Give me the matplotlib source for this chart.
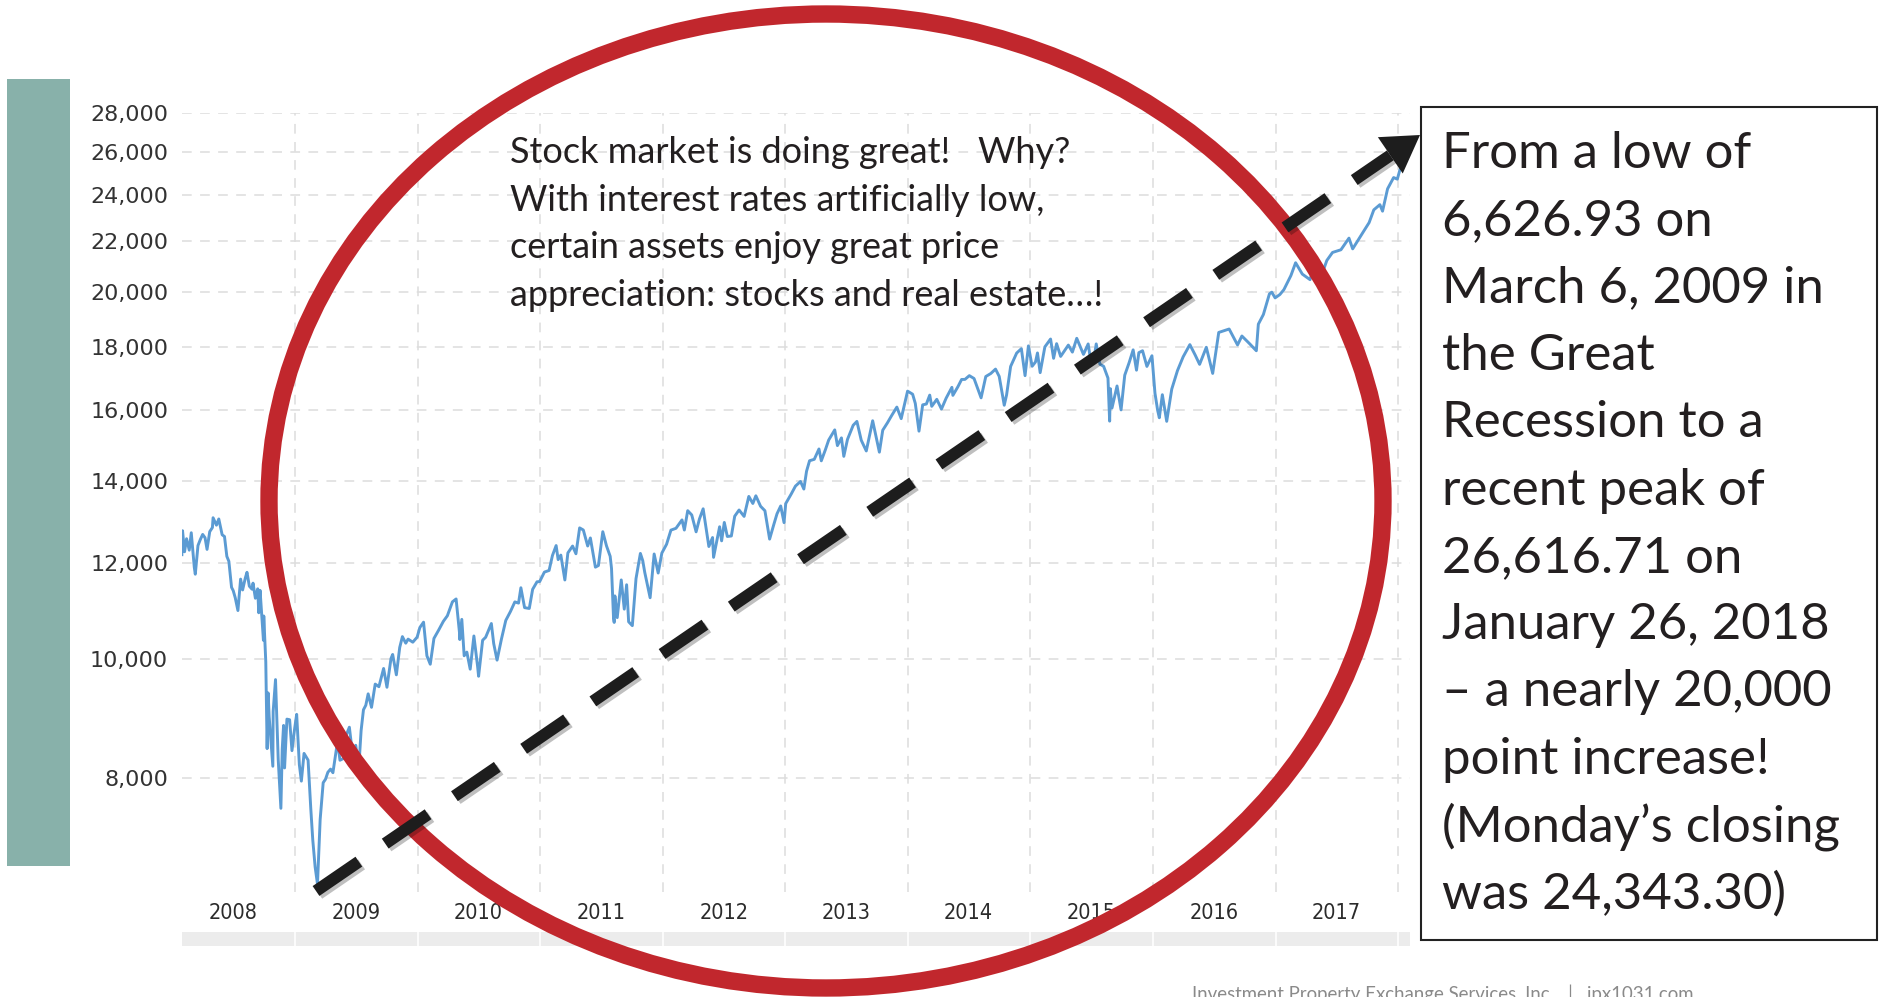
import datetime as dt
import matplotlib
matplotlib.use("Agg")
import pandas as pd
import matplotlib.pyplot as plt
import matplotlib.dates as mdates
import matplotlib.patheffects as pe
from matplotlib.patches import Ellipse, Rectangle, Polygon
from matplotlib.ticker import FixedLocator, FuncFormatter

W, H, DPI = 1881, 997, 100
plt.rcParams['lines.scale_dashes'] = False

# Dow Jones Industrial Average (approximate closes)
djia_dates = [
    "2008-01-30", "2008-02-01", "2008-02-07", "2008-02-13", "2008-02-21", "2008-02-27", "2008-03-07",
    "2008-03-10", "2008-03-18", "2008-03-25", "2008-04-01", "2008-04-08", "2008-04-14", "2008-04-22",
    "2008-04-30", "2008-05-02", "2008-05-12", "2008-05-19", "2008-05-29", "2008-06-05", "2008-06-12",
    "2008-06-18", "2008-06-26", "2008-07-01", "2008-07-07", "2008-07-15", "2008-07-23", "2008-07-29",
    "2008-08-06", "2008-08-11", "2008-08-18", "2008-08-26", "2008-08-29", "2008-09-05", "2008-09-12",
    "2008-09-15", "2008-09-19", "2008-09-29", "2008-09-30", "2008-10-06", "2008-10-10", "2008-10-13",
    "2008-10-16", "2008-10-22", "2008-10-27", "2008-10-28", "2008-11-04", "2008-11-12", "2008-11-20",
    "2008-11-24", "2008-11-28", "2008-12-01", "2008-12-08", "2008-12-16", "2008-12-23", "2008-12-31",
    "2009-01-06", "2009-01-14", "2009-01-20", "2009-01-28", "2009-02-09", "2009-02-17", "2009-02-23",
    "2009-03-02", "2009-03-09", "2009-03-17", "2009-03-26", "2009-04-02", "2009-04-09", "2009-04-17",
    "2009-04-24", "2009-05-04", "2009-05-08", "2009-05-15", "2009-05-27", "2009-06-03", "2009-06-12",
    "2009-06-22", "2009-07-01", "2009-07-10", "2009-07-17", "2009-07-24", "2009-07-31", "2009-08-07",
    "2009-08-17", "2009-08-28", "2009-09-08", "2009-09-22", "2009-10-02", "2009-10-14", "2009-10-19",
    "2009-10-30", "2009-11-09", "2009-11-17", "2009-11-27", "2009-12-04", "2009-12-18", "2009-12-31",
    "2010-01-08", "2010-01-19", "2010-01-29", "2010-02-08", "2010-02-19", "2010-03-05", "2010-03-19",
    "2010-03-31", "2010-04-15", "2010-04-26", "2010-05-06", "2010-05-07", "2010-05-13", "2010-05-20",
    "2010-05-28", "2010-06-07", "2010-06-18", "2010-06-29", "2010-07-02", "2010-07-14", "2010-07-23",
    "2010-08-09", "2010-08-16", "2010-08-26", "2010-09-08", "2010-09-21", "2010-10-05", "2010-10-18",
    "2010-10-29", "2010-11-05", "2010-11-16", "2010-11-30", "2010-12-10", "2010-12-23", "2010-12-31",
    "2011-01-14", "2011-01-28", "2011-02-07", "2011-02-18", "2011-02-24", "2011-03-04", "2011-03-16",
    "2011-03-25", "2011-04-08", "2011-04-18", "2011-04-29", "2011-05-10", "2011-05-23", "2011-05-31",
    "2011-06-15", "2011-06-24", "2011-07-07", "2011-07-18", "2011-07-29", "2011-08-02", "2011-08-08",
    "2011-08-10", "2011-08-12", "2011-08-19", "2011-08-31", "2011-09-09", "2011-09-16", "2011-09-22",
    "2011-10-03", "2011-10-14", "2011-10-27", "2011-11-03", "2011-11-09", "2011-11-25", "2011-12-07",
    "2011-12-19", "2011-12-30", "2012-01-13", "2012-01-26", "2012-02-10", "2012-02-28", "2012-03-06",
    "2012-03-16", "2012-03-28", "2012-04-10", "2012-04-20", "2012-05-01", "2012-05-18", "2012-05-29",
    "2012-06-01", "2012-06-19", "2012-06-25", "2012-07-03", "2012-07-12", "2012-07-24", "2012-08-03",
    "2012-08-16", "2012-08-31", "2012-09-14", "2012-09-26", "2012-10-05", "2012-10-19", "2012-11-01",
    "2012-11-15", "2012-11-27", "2012-12-07", "2012-12-18", "2012-12-28", "2013-01-02", "2013-01-18",
    "2013-01-31", "2013-02-15", "2013-02-25", "2013-03-05", "2013-03-14", "2013-03-28", "2013-04-11",
    "2013-04-18", "2013-04-30", "2013-05-10", "2013-05-28", "2013-06-05", "2013-06-17", "2013-06-24",
    "2013-07-05", "2013-07-22", "2013-08-02", "2013-08-15", "2013-08-30", "2013-09-18", "2013-09-30",
    "2013-10-08", "2013-10-18", "2013-11-01", "2013-11-13", "2013-11-29", "2013-12-12", "2013-12-31",
    "2014-01-15", "2014-01-23", "2014-02-03", "2014-02-14", "2014-02-25", "2014-03-07", "2014-03-13",
    "2014-03-28", "2014-04-11", "2014-04-25", "2014-05-12", "2014-05-15", "2014-05-30", "2014-06-10",
    "2014-06-20", "2014-07-03", "2014-07-17", "2014-07-31", "2014-08-07", "2014-08-21", "2014-09-05",
    "2014-09-19", "2014-09-30", "2014-10-15", "2014-10-22", "2014-11-03", "2014-11-21", "2014-12-05",
    "2014-12-16", "2014-12-26", "2015-01-06", "2015-01-16", "2015-01-22", "2015-01-30", "2015-02-13",
    "2015-03-02", "2015-03-11", "2015-03-20", "2015-04-01", "2015-04-24", "2015-05-06", "2015-05-19",
    "2015-06-08", "2015-06-22", "2015-06-29", "2015-07-08", "2015-07-16", "2015-07-27", "2015-08-07",
    "2015-08-20", "2015-08-24", "2015-08-25", "2015-08-27", "2015-09-01", "2015-09-16", "2015-09-28",
    "2015-10-09", "2015-10-22", "2015-11-03", "2015-11-13", "2015-11-20", "2015-12-01", "2015-12-14",
    "2015-12-29", "2016-01-07", "2016-01-15", "2016-01-20", "2016-01-29", "2016-02-11", "2016-02-26",
    "2016-03-14", "2016-03-31", "2016-04-20", "2016-05-06", "2016-05-19", "2016-06-08", "2016-06-27",
    "2016-07-15", "2016-08-15", "2016-09-09", "2016-09-22", "2016-10-14", "2016-11-04", "2016-11-10",
    "2016-11-25", "2016-12-13", "2016-12-20", "2016-12-30", "2017-01-13", "2017-01-25", "2017-02-15",
    "2017-03-01", "2017-03-21", "2017-04-13", "2017-04-25", "2017-05-17", "2017-06-02", "2017-06-19",
    "2017-07-14", "2017-08-07", "2017-08-18", "2017-09-01", "2017-09-20", "2017-10-06", "2017-10-20",
    "2017-11-07", "2017-11-15", "2017-11-30", "2017-12-18", "2017-12-29", "2018-01-08", "2018-01-17",
    "2018-01-22", "2018-01-26",
]
djia_close = [
    12180, 12743, 12247, 12552, 12284, 12694, 11894,
    11740, 12392, 12533, 12654, 12576, 12302, 12720,
    12820, 13058, 12876, 13028, 12646, 12604, 12141,
    12029, 11453, 11382, 11231, 10963, 11632, 11397,
    11656, 11782, 11479, 11413, 11544, 11220, 11421,
    10917, 11388, 10365, 10851, 9955, 8451, 9387,
    8979, 8519, 8175, 9065, 9625, 8283, 7552,
    8443, 8829, 8149, 8934, 8924, 8419, 8776,
    9015, 8200, 7949, 8375, 8270, 7553, 7114,
    6763, 6547, 7395, 7925, 7978, 8083, 8131,
    8076, 8426, 8575, 8268, 8300, 8675, 8799,
    8339, 8504, 8146, 8744, 9093, 9171, 9370,
    9135, 9544, 9497, 9829, 9487, 10015, 10092,
    9712, 10226, 10437, 10309, 10388, 10328, 10428,
    10618, 10725, 10067, 9908, 10402, 10566, 10742,
    10856, 11144, 11205, 10520, 10380, 10782, 10068,
    10137, 9816, 10450, 9870, 9686, 10366, 10424,
    10698, 10302, 9985, 10387, 10761, 10944, 11143,
    11118, 11444, 11023, 11006, 11410, 11573, 11578,
    11787, 11823, 12161, 12391, 12068, 12170, 11613,
    12221, 12380, 12201, 12811, 12760, 12381, 12570,
    11897, 11934, 12719, 12385, 12143, 11867, 10810,
    10720, 11270, 10818, 11614, 10992, 11509, 10733,
    10655, 11644, 12209, 12044, 11781, 11231, 12196,
    11766, 12218, 12422, 12757, 12801, 13005, 12759,
    13233, 13127, 12716, 13029, 13280, 12369, 12580,
    12119, 12838, 12502, 12943, 12605, 12617, 13096,
    13250, 13091, 13594, 13414, 13610, 13344, 13232,
    12543, 12879, 13155, 13351, 12938, 13412, 13650,
    13861, 13982, 13784, 14254, 14539, 14578, 14865,
    14537, 14840, 15118, 15409, 14960, 15179, 14660,
    15136, 15545, 15658, 15112, 14810, 15677, 15130,
    14776, 15400, 15616, 15822, 16086, 15740, 16577,
    16482, 16198, 15373, 16154, 16180, 16453, 16109,
    16323, 16027, 16361, 16696, 16446, 16717, 16946,
    16948, 17068, 16976, 16563, 16369, 17040, 17138,
    17280, 17043, 16142, 16462, 17367, 17810, 17958,
    17068, 18053, 17372, 17512, 17814, 17165, 18019,
    18288, 17635, 18128, 17698, 18080, 17842, 18312,
    17766, 18119, 17596, 17515, 18120, 17440, 17373,
    16990, 15871, 15666, 16655, 16058, 16739, 16001,
    17084, 17489, 17918, 17245, 17823, 17888, 17368,
    17720, 16514, 15988, 15766, 16466, 15660, 16640,
    17229, 17685, 18096, 17740, 17435, 18005, 17140,
    18516, 18636, 18085, 18392, 18138, 17888, 18807,
    19152, 19911, 19975, 19763, 19886, 20069, 20611,
    21115, 20668, 20453, 20996, 20607, 21206, 21529,
    21638, 22118, 21675, 21988, 22412, 22774, 23329,
    23557, 23271, 24272, 24792, 24719, 25283, 26116,
    26214, 26617,
]

y_ticks = [8000, 10000, 12000, 14000, 16000, 18000, 20000, 22000, 24000, 26000, 28000]
year_labels = ["2008", "2009", "2010", "2011", "2012", "2013", "2014", "2015", "2016", "2017"]
year_lines = list(range(2009, 2019))

note_lines = [
    "Stock market is doing great!   Why?",
    "With interest rates artificially low,",
    "certain assets enjoy great price",
    "appreciation: stocks and real estate\u2026!",
]
box_lines = [
    "From a low of",
    "6,626.93 on",
    "March 6, 2009 in",
    "the Great",
    "Recession to a",
    "recent peak of",
    "26,616.71 on",
    "January 26, 2018",
    "\u2013 a nearly 20,000",
    "point increase!",
    "(Monday\u2019s closing",
    "was 24,343.30)",
]
footer = "Investment Property Exchange Services, Inc.   |   ipx1031.com"

dates = pd.to_datetime(djia_dates)

fig = plt.figure(figsize=(W / DPI, H / DPI), dpi=DPI)
fig.patch.set_facecolor("white")

# main chart area (pixel box 182..1410 x 113..892)
ax = fig.add_axes([182 / W, 1 - 892 / H, (1410 - 182) / W, (892 - 113) / H])
ax.plot(dates, djia_close, color="#5b9bd3", lw=2.1, zorder=3)
ax.set_yscale("log")
ax.set_ylim(6450, 28000)
x_ref = mdates.date2num(dt.date(2009, 1, 1))
ax.set_xlim(x_ref - 336.6, x_ref + 3321.8)

ax.yaxis.set_major_locator(FixedLocator(y_ticks))
ax.yaxis.set_minor_locator(FixedLocator([]))
ax.yaxis.set_major_formatter(FuncFormatter(lambda v, p: f"{v:,.0f}"))
ax.xaxis.set_major_locator(FixedLocator([mdates.date2num(dt.date(y, 1, 1)) for y in year_lines]))
ax.xaxis.set_minor_locator(FixedLocator([mdates.date2num(dt.date(int(y), 7, 1)) for y in year_labels]))
ax.xaxis.set_major_formatter(FuncFormatter(lambda v, p: ""))
ax.xaxis.set_minor_formatter(FuncFormatter(lambda v, p: year_labels[p] if p is not None and p < len(year_labels) else ""))
ax.tick_params(axis="y", which="both", length=0, pad=10, labelsize=16, labelcolor="#333333")
ax.tick_params(axis="x", which="both", length=0, pad=8, labelsize=15.5, labelcolor="#2b2b2b")
for lab in ax.get_xticklabels(which="minor"):
    lab.set_fontstretch("condensed")
ax.grid(True, which="major", color="#dddddd", lw=1.1, linestyle=(0, (7, 6)))
for s in ax.spines.values():
    s.set_visible(False)

# navigator strip under the chart
nav = fig.add_axes([182 / W, 1 - 946 / H, (1410 - 182) / W, 14 / H], sharex=ax)
nav.set_facecolor("#ececec")
nav.grid(True, which="major", axis="x", color="white", lw=1.2)
nav.tick_params(length=0, labelbottom=False, labelleft=False, which="both")
nav.set_yticks([])
for s in nav.spines.values():
    s.set_visible(False)

# overlay in pixel coordinates for the slide decorations
ov = fig.add_axes([0, 0, 1, 1], zorder=5)
ov.set_xlim(0, W)
ov.set_ylim(H, 0)
ov.axis("off")
ov.patch.set_alpha(0)

ov.add_patch(Rectangle((7, 79), 63, 787, color="#88b1aa", lw=0))

for i, line in enumerate(note_lines):
    ov.text(510, 163 + i * 47.5, line, fontsize=26, family="Lato", color="#231f20", va="baseline")

ov.add_patch(Ellipse((826, 501), 2 * 557, 2 * 487, fill=False, edgecolor="#c1272d", lw=12.5))

# dashed arrow
sx, sy, tx, ty = 316, 891, 1420, 135
dx, dy = tx - sx, ty - sy
L = (dx ** 2 + dy ** 2) ** 0.5
ux, uy = dx / L, dy / L
bx, by = tx - 36 * ux, ty - 36 * uy
shadow = [pe.SimpleLineShadow(offset=(2, -2), alpha=0.25, shadow_color="black"), pe.Normal()]
ov.plot([sx, bx], [sy, by], color="#1d1d1d", lw=8.6, solid_capstyle="butt", dash_capstyle="butt",
        linestyle=(0, (37.4, 23.0)), path_effects=shadow)
px, py = -uy, ux
ov.add_patch(Polygon([(tx, ty), (bx + 22 * px, by + 22 * py), (bx - 22 * px, by - 22 * py)],
                     closed=True, color="#1d1d1d", lw=0))

# right text box
ov.add_patch(Rectangle((1421, 107), 456, 833, fill=False, edgecolor="#222222", lw=1.5))
for i, line in enumerate(box_lines):
    ov.text(1442, 168 + i * 67.3, line, fontsize=36.6, family="Lato", color="#231f20", va="baseline")

ov.text(1192, 984, footer, fontsize=13.4, family="Lato", color="#8a8a8a", va="top")

fig.savefig("out.png", dpi=DPI)
